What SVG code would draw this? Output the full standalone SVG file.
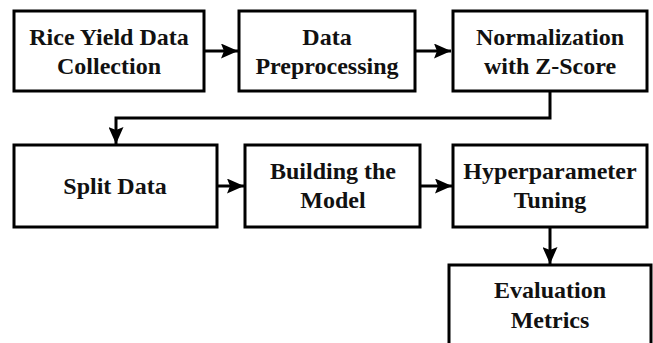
<svg xmlns="http://www.w3.org/2000/svg" width="653" height="343" viewBox="0 0 653 343">
<defs>
<style>
.box{fill:#fff;stroke:#000;stroke-width:3}
.t{font-family:"Liberation Serif","Times New Roman",serif;font-weight:bold;font-size:24px;fill:#111;text-anchor:middle}
.c{fill:none;stroke:#000;stroke-width:3}
</style>
<marker id="ah" markerWidth="17" markerHeight="15" refX="17" refY="7.5" orient="auto" markerUnits="userSpaceOnUse">
<path d="M0,0 L17,7.5 L0,15 L3,7.5 z" fill="#000"/>
</marker>
</defs>
<rect width="653" height="343" fill="#fff"/>
<g id="connectors">
<path class="c" d="M204,51 H238" marker-end="url(#ah)"/>
<path class="c" d="M415,51 H451" marker-end="url(#ah)"/>
<path class="c" d="M550,91 V118 H116 V144" marker-end="url(#ah)"/>
<path class="c" d="M217,186 H244" marker-end="url(#ah)"/>
<path class="c" d="M420,186 H452" marker-end="url(#ah)"/>
<path class="c" d="M550,227 V264" marker-end="url(#ah)"/>
</g>
<g id="n1"><rect class="box" x="14" y="11" width="190" height="80"/><text class="t" x="109" y="45">Rice Yield Data</text><text class="t" x="109" y="74">Collection</text></g>
<g id="n2"><rect class="box" x="239" y="11" width="176" height="80"/><text class="t" x="327" y="45">Data</text><text class="t" x="327" y="74">Preprocessing</text></g>
<g id="n3"><rect class="box" x="453" y="11" width="194" height="80"/><text class="t" x="550" y="45">Normalization</text><text class="t" x="550" y="74">with Z-Score</text></g>
<g id="n4"><rect class="box" x="14" y="145" width="203" height="82"/><text class="t" x="115" y="194">Split Data</text></g>
<g id="n5"><rect class="box" x="245" y="145" width="175" height="82"/><text class="t" x="333" y="179">Building the</text><text class="t" x="333" y="208">Model</text></g>
<g id="n6"><rect class="box" x="453" y="145" width="194" height="82"/><text class="t" x="550" y="179">Hyperparameter</text><text class="t" x="550" y="208">Tuning</text></g>
<g id="n7"><rect class="box" x="449" y="265" width="202" height="90"/><text class="t" x="550" y="298">Evaluation</text><text class="t" x="550" y="328">Metrics</text></g>
</svg>
